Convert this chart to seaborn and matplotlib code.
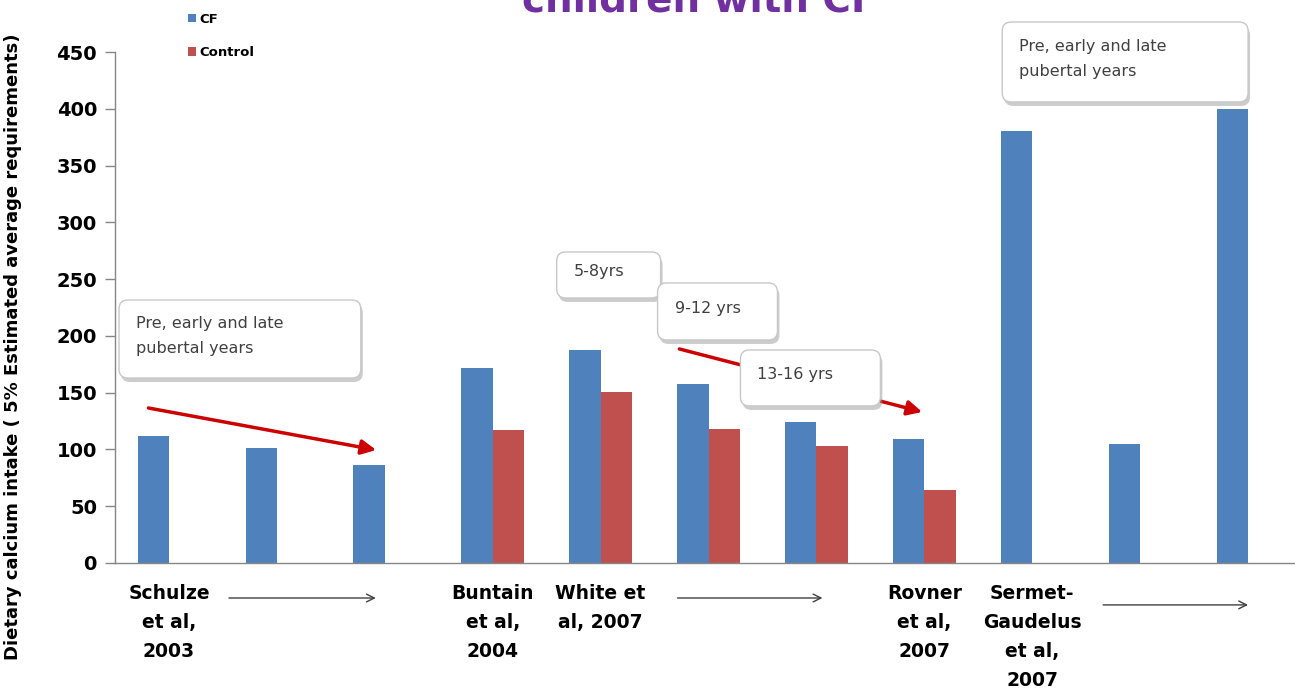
import numpy as np
import pandas as pd
import seaborn as sns
import matplotlib.pyplot as plt
import matplotlib.transforms as mtransforms
from matplotlib.patches import FancyBboxPatch

# ---- data -------------------------------------------------------------
studies = [
    "Schulze 2003 pre", "Schulze 2003 early", "Schulze 2003 late",
    "Buntain 2004",
    "White 2007 5-8", "White 2007 9-12", "White 2007 13-16",
    "Rovner 2007",
    "Sermet-Gaudelus 2007 pre", "Sermet-Gaudelus 2007 early",
    "Sermet-Gaudelus 2007 late",
]
tick_labels = [
    "Schulze\net al,\n2003", "", "",
    "Buntain\net al,\n2004",
    "White et\nal, 2007", "", "",
    "Rovner\net al,\n2007",
    "Sermet-\nGaudelus\net al,\n2007", "", "",
]
cf_values = [112, 101, 86, 172, 188, 158, 124, 109, 380, 105, 400]
control_values = [np.nan, np.nan, np.nan, 117, 151, 118, 103, 64,
                  np.nan, np.nan, np.nan]
groups = ["CF", "Control"]
group_colors = ["#4F81BD", "#C0504D"]

df = pd.DataFrame({
    "study": studies * 2,
    "group": ["CF"] * len(studies) + ["Control"] * len(studies),
    "value": cf_values + control_values,
})

# ---- figure -----------------------------------------------------------
sns.set_style("white")
plt.rcParams["font.family"] = ["DejaVu Sans"]

W, H = 1295, 694
fig = plt.figure(figsize=(W / 100, H / 100), dpi=100)
ax = fig.add_axes([115 / W, 131 / H, (W - 115) / W, 511 / H])

sns.barplot(data=df, x="study", y="value", hue="group", order=studies,
            hue_order=groups, palette=group_colors, width=0.58, gap=0,
            saturation=1, errorbar=None, linewidth=0, ax=ax, zorder=2)

ax.set_xlim(-0.5, 10.435)
ax.set_ylim(0, 450)
ax.set_yticks(np.arange(0, 451, 50))
ax.set_yticklabels([str(v) for v in range(0, 451, 50)],
                   fontsize=14, fontweight="bold", color="#000000")
ax.set_xticks(range(len(studies)))
ax.set_xticklabels(tick_labels, fontsize=13.5, fontweight="bold",
                   linespacing=1.68, va="top", color="#000000")
ax.tick_params(axis="x", length=0, pad=15)
ax.tick_params(axis="y", direction="out", length=7, width=1,
               color="#868686", left=True, pad=6)
ax.set_xlabel("")
ax.set_ylabel("Dietary calcium intake ( 5% Estimated average requirements)",
              fontsize=13, fontweight="bold", color="#000000")
ax.yaxis.set_label_coords(-0.0788, 0.423)
for side in ("top", "right"):
    ax.spines[side].set_visible(False)
for side in ("left", "bottom"):
    ax.spines[side].set_color("#868686")
    ax.spines[side].set_linewidth(1)

# legend in the upper-left corner
handles, labels = ax.get_legend_handles_labels()
leg = ax.legend(handles, labels, loc="upper left",
                bbox_to_anchor=(176 / W, 1 - 1 / H),
                bbox_transform=fig.transFigure, frameon=False,
                prop={"size": 9.5, "weight": "bold"}, handlelength=0.6,
                handleheight=0.6, handletextpad=0.3, labelspacing=1.55)
for t in leg.get_texts():
    t.set_color("#000000")

# title, partly running off the top edge
fig.text(700 / W, 1 - 12 / H, "children with CF", color="#7030A0",
         fontsize=28, fontweight="bold", ha="center", va="baseline")

# ---- callouts and arrows -------------------------------------------------
p0 = ax.transData.transform((0, 0))
p1 = ax.transData.transform((1, 1))
px_x, px_y = p1[0] - p0[0], p1[1] - p0[1]


def callout(x0, x1, y0, y1, text, z):
    """Rounded white box with a soft shadow, text left-aligned inside."""
    r = 9 / px_x
    aspect = px_x / px_y
    shadow = FancyBboxPatch((x0 + 2 / px_x, y0 - 4 / px_y), x1 - x0, y1 - y0,
                            boxstyle=f"round,pad=0,rounding_size={r}",
                            mutation_aspect=aspect, fc="#9a9a9a", ec="none",
                            alpha=0.5, zorder=z, clip_on=False)
    box = FancyBboxPatch((x0, y0), x1 - x0, y1 - y0,
                         boxstyle=f"round,pad=0,rounding_size={r}",
                         mutation_aspect=aspect, fc="white", ec="#c8c8c8",
                         lw=1, zorder=z + 0.1, clip_on=False)
    ax.add_patch(shadow)
    ax.add_patch(box)
    ax.text(x0 + 17 / px_x, (y0 + y1) / 2 + 3 / px_y, text, fontsize=11.5,
            color="#404040", ha="left", va="center", linespacing=1.85,
            zorder=z + 0.2, clip_on=False)


red = "#CC0000"
ax.annotate("", xy=(1.92, 99.5), xytext=(-0.19, 136.5),
            arrowprops=dict(arrowstyle="-|>", color=red, lw=2.5,
                            mutation_scale=22, shrinkA=0, shrinkB=0),
            zorder=4)
ax.annotate("", xy=(6.98, 133), xytext=(4.73, 188.5),
            arrowprops=dict(arrowstyle="-|>", color=red, lw=2.5,
                            mutation_scale=22, shrinkA=0, shrinkB=0),
            zorder=4)

callout(-0.463, 1.778, 162.9, 231.6, "Pre, early and late\npubertal years", 5)
callout(3.593, 4.556, 233.4, 273.9, "5-8yrs", 5)
callout(4.528, 5.639, 196.4, 246.6, "9-12 yrs", 6)
callout(5.296, 6.593, 138.3, 187.6, "13-16 yrs", 6)
callout(7.722, 10.0, 406.0, 476.4, "Pre, early and late\npubertal years", 5)

# thin arrows under the axis pointing across each study's sub-groups
blend = mtransforms.blended_transform_factory(ax.transData, ax.transAxes)
for xa, xb, yy in [(0.556, 1.917, -0.0685), (4.713, 6.056, -0.0685),
                   (8.657, 10.0, -0.082)]:
    ax.annotate("", xy=(xb, yy), xytext=(xa, yy), xycoords=blend,
                textcoords=blend, annotation_clip=False,
                arrowprops=dict(arrowstyle="->", color="#404040", lw=1,
                                mutation_scale=14, shrinkA=0, shrinkB=0))

fig.savefig("out.png", dpi=100)
